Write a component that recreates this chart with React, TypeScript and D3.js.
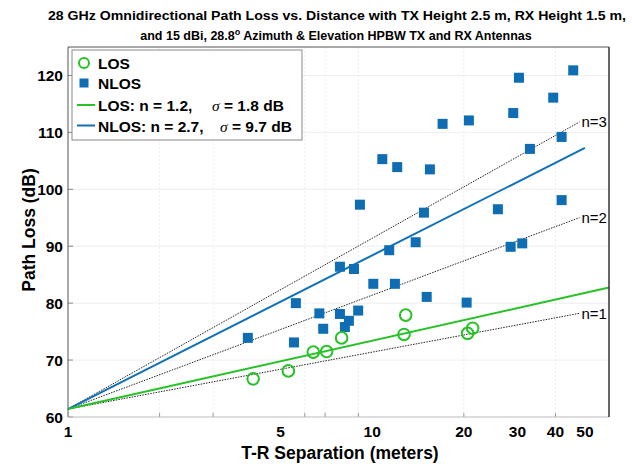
import React from "react";
import * as d3 from "d3";

const titleLines = [
  "28 GHz Omnidirectional Path Loss vs. Distance with TX Height 2.5 m, RX Height 1.5 m,",
  "and 15 dBi, 28.8",
];
const losDist = [4.06, 5.3, 6.4, 7.08, 7.93, 12.72, 12.88, 20.58, 21.38];
const losPL = [66.7, 68.1, 71.4, 71.5, 73.9, 74.5, 77.9, 74.7, 75.6];
const nlosDist = [
  3.9, 5.53, 5.61, 6.7, 6.9, 7.83, 8.13, 8.38, 8.99, 7.83, 8.71, 10.08, 11.87, 9.11, 10.79, 12.08, 15.47,
  14.79, 13.89, 11.37, 15.1, 20.43, 17.03, 20.78, 25.88, 28.5, 31.12, 29.07, 30.35, 32.98, 39.34, 41.92,
  41.92, 45.77,
];
const nlosPL = [
  73.9, 73.1, 80.0, 78.2, 75.5, 78.1, 75.8, 76.9, 78.7, 86.4, 86.0, 83.4, 83.4, 97.3, 105.3, 103.9, 103.5,
  95.9, 90.7, 89.3, 81.1, 80.1, 111.5, 112.1, 96.5, 89.9, 90.5, 113.4, 119.6, 107.1, 116.1, 109.2, 98.1,
  120.9,
];
const pl0 = 61.4;
const nLos = 1.2;
const nNlos = 2.7;
const refN = [1, 2, 3];
const xTickVals = [1, 5, 10, 20, 30, 40, 50];
const xGridVals = [2, 3, 6, 7, 9, 20, 40];
const yTickVals = [60, 70, 80, 90, 100, 110, 120];

const W = 632;
const H = 466;
const FONT = "'Liberation Sans', Arial, Helvetica, sans-serif";
const GREEN = "#27c227";
const BLUE = "#1070b8";
const SQ = "#0f6db4";

export default function App() {
  const x = d3.scaleLog().domain([1, 60]).range([68, 609]);
  const y = d3.scaleLinear().domain([60, 125]).range([417, 47]);
  const fit = (n: number) => (d: number) => pl0 + 10 * n * Math.log10(d);
  const line = (n: number, dEnd: number) =>
    d3
      .line<number>()
      .x((d) => x(d))
      .y((d) => y(fit(n)(d)))([1, dEnd]) || "";

  const [x0, x1] = x.range();
  const [yb, yt] = y.range();

  return (
    <svg
      width={W}
      height={H}
      style={{ position: "absolute", left: 0, top: 0, background: "#fff" }}
      fontFamily={FONT}
    >
      {/* title */}
      <text x={337} y={20} textAnchor="middle" fontSize={12.5} fontWeight="bold" textLength={578} lengthAdjust="spacingAndGlyphs">
        {titleLines[0]}
      </text>
      <text x={336} y={40} textAnchor="middle" fontSize={12.5} fontWeight="bold">
        {titleLines[1]}
        <tspan dy={-5} fontSize={9}>o</tspan>
        <tspan dy={5}> Azimuth &amp; Elevation HPBW TX and RX Antennas</tspan>
      </text>

      {/* grid */}
      {yTickVals.slice(1).map((v) => (
        <line key={"gy" + v} x1={x0} x2={x1} y1={y(v)} y2={y(v)} stroke="#eeeeee" strokeWidth={1} />
      ))}
      {xGridVals.map((v) => (
        <line key={"gx" + v} x1={x(v)} x2={x(v)} y1={yb} y2={yt} stroke="#ececec" strokeWidth={1} strokeDasharray="2 2" />
      ))}
      {xGridVals.map((v) => (
        <line key={"tx" + v} x1={x(v)} x2={x(v)} y1={yb} y2={yb - 4} stroke="#999" strokeWidth={1} />
      ))}
      {yTickVals.map((v) => (
        <line key={"ty" + v} x1={x0} x2={x0 + 5} y1={y(v)} y2={y(v)} stroke="#888" strokeWidth={1} />
      ))}

      {/* reference lines */}
      {refN.map((n) => (
        <g key={"ref" + n}>
          <path d={line(n, 48)} fill="none" stroke="#222" strokeWidth={1} strokeDasharray="1.5 1.2" />
          <text x={x(48) + 2} y={y(fit(n)(48))} dy="0.35em" fontSize={15}>
            {"n=" + n}
          </text>
        </g>
      ))}

      {/* fit lines */}
      <path d={line(nNlos, 50)} fill="none" stroke={BLUE} strokeWidth={2} />
      <path d={line(nLos, 60)} fill="none" stroke={GREEN} strokeWidth={2} />

      {/* data */}
      {nlosDist.map((d, i) => (
        <rect key={"n" + i} x={x(d) - 5} y={y(nlosPL[i]) - 5} width={10} height={10} fill={SQ} />
      ))}
      {losDist.map((d, i) => (
        <circle key={"l" + i} cx={x(d)} cy={y(losPL[i])} r={5.8} fill="none" stroke={GREEN} strokeWidth={2} />
      ))}

      {/* axes frame */}
      <line x1={x0} x2={x0} y1={yb} y2={yt} stroke="#555" strokeWidth={1} />
      <line x1={x0} x2={x1} y1={yb} y2={yb} stroke="#bbb" strokeWidth={1} />
      <line x1={x1} x2={x1} y1={yb} y2={yt} stroke="#333" strokeWidth={1.5} />
      <line x1={x0} x2={x1} y1={yt} y2={yt} stroke="#555" strokeWidth={1} />

      {/* tick labels */}
      {yTickVals.map((v) => (
        <text key={"yl" + v} x={63} y={y(v)} dy="0.36em" textAnchor="end" fontSize={15.5} fontWeight="bold">
          {v}
        </text>
      ))}
      {xTickVals.map((v) => (
        <text key={"xl" + v} x={x(v)} y={437} textAnchor="middle" fontSize={15.5} fontWeight="bold">
          {v}
        </text>
      ))}

      {/* axis labels */}
      <text x={340} y={459} textAnchor="middle" fontSize={17.5} fontWeight="bold">
        T-R Separation (meters)
      </text>
      <text transform="translate(35,230) rotate(-90)" textAnchor="middle" fontSize={17.5} fontWeight="bold">
        Path Loss (dB)
      </text>

      {/* legend */}
      <rect x={72} y={50} width={230} height={90} fill="#fff" stroke="#888" strokeWidth={1} />
      <circle cx={84} cy={63} r={5} fill="none" stroke={GREEN} strokeWidth={2} />
      <text x={98} y={63} dy="0.36em" fontSize={15.5} fontWeight="bold">LOS</text>
      <rect x={79.5} y={78.5} width={9} height={9} fill={SQ} />
      <text x={98} y={83.5} dy="0.36em" fontSize={15.5} fontWeight="bold">NLOS</text>
      <line x1={77} x2={95} y1={105} y2={105} stroke={GREEN} strokeWidth={2} />
      <text x={98} y={105} dy="0.36em" fontSize={15.5} fontWeight="bold">
        {"LOS: n = " + nLos.toFixed(1) + ","}
        <tspan x={212} fontFamily="'Liberation Serif', 'Times New Roman', serif" fontStyle="italic" fontWeight="normal">σ</tspan>
        <tspan x={224}>{"= 1.8 dB"}</tspan>
      </text>
      <line x1={77} x2={95} y1={125.5} y2={125.5} stroke={BLUE} strokeWidth={2} />
      <text x={98} y={126} dy="0.36em" fontSize={15.5} fontWeight="bold">
        {"NLOS: n = " + nNlos.toFixed(1) + ","}
        <tspan x={220} fontFamily="'Liberation Serif', 'Times New Roman', serif" fontStyle="italic" fontWeight="normal">σ</tspan>
        <tspan x={232}>{"= 9.7 dB"}</tspan>
      </text>
    </svg>
  );
}
